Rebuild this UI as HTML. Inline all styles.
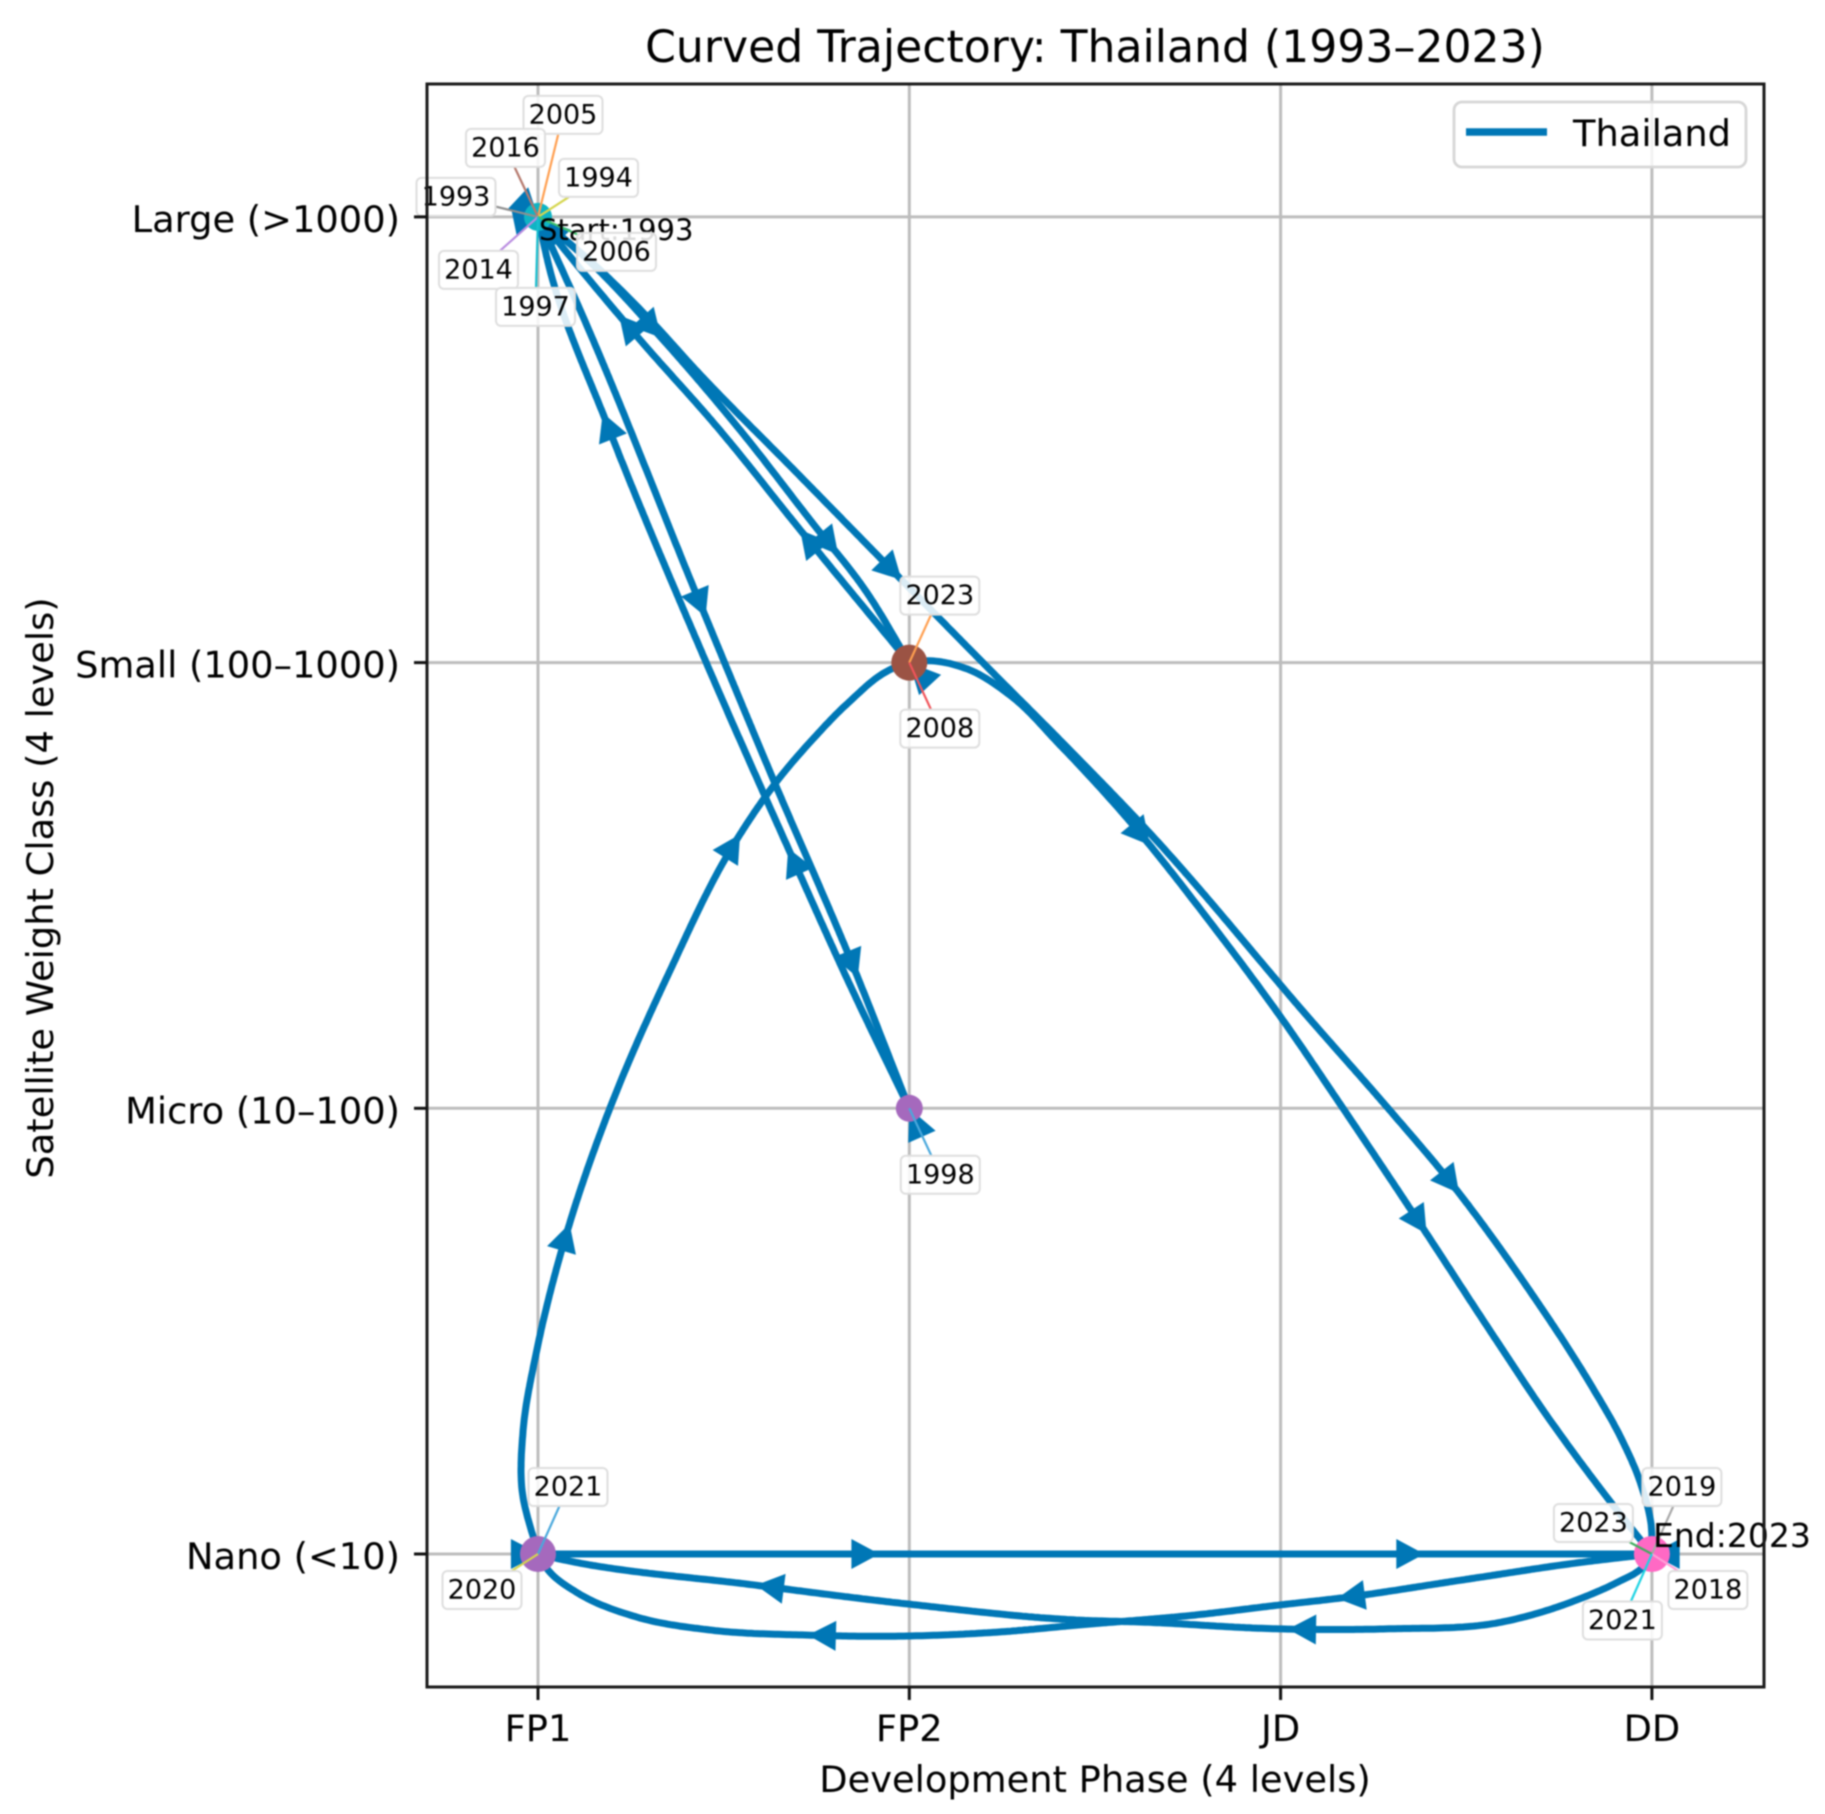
<!DOCTYPE html>
<html lang="en">
<head>
<meta charset="utf-8">
<title>Curved Trajectory: Thailand (1993–2023)</title>
<style>
  html, body { margin: 0; padding: 0; background: #fff; }
  body { width: 1825px; height: 1814px; overflow: hidden; }
  svg { display: block; filter: blur(0.85px); }
  text { font-family: "DejaVu Sans", "Liberation Sans", sans-serif; fill: #000; }
</style>
</head>
<body>
<svg id="chart" xmlns="http://www.w3.org/2000/svg" width="1825" height="1814" viewBox="0 0 1825 1814">
  <rect x="0" y="0" width="1825" height="1814" fill="#ffffff"/>
  <g id="grid"></g>
  <g id="legs"></g>
  <g id="arrows"></g>
  <g id="nodes"></g>
  <g id="leaders"></g>
  <text x="539" y="240" font-size="29">Start:1993</text>
  <text x="1653" y="1547" font-size="33">End:2023</text>
  <g id="labels"></g>
  <rect x="427" y="84" width="1337" height="1603" fill="none" stroke="#1a1a1a" stroke-width="3"/>
  <g id="ticks"></g>
  <text x="1095" y="62" font-size="44.1" text-anchor="middle">Curved Trajectory: Thailand (1993–2023)</text>
  <text x="1095" y="1792" font-size="36.8" text-anchor="middle">Development Phase (4 levels)</text>
  <text transform="translate(53 888) rotate(-90)" font-size="36.8" text-anchor="middle">Satellite Weight Class (4 levels)</text>
  <g>
    <rect x="1454" y="102" width="292" height="65" rx="8" fill="#ffffff" fill-opacity="0.82" stroke="#d6d6d6" stroke-width="2.8"/>
    <line x1="1466" y1="132" x2="1547" y2="132" stroke="#0077b6" stroke-width="7.5"/>
    <text x="1573" y="146" font-size="36.8">Thailand</text>
  </g>
</svg>
<script>
// ---- categories / tick labels ----
const phaseLabels = ['FP1', 'FP2', 'JD', 'DD'];
const weightLabels = ['Nano (<10)', 'Micro (10–100)', 'Small (100–1000)', 'Large (>1000)'];

// ---- trajectory legs (phase index, weight-class index) ----
const leg0Phase  = [0, .105, .436, .633, .840, 1];
const leg0Weight = [3, 2.807, 2.134, 1.739, 1.337, 1];
const leg1Phase  = [1, .840, .687, .450, .189, .032, 0];
const leg1Weight = [1, 1.277, 1.559, 2.006, 2.529, 2.881, 3];
const leg2Phase  = [1, .706, .482, .275, .132, 0];
const leg2Weight = [2, 2.298, 2.529, 2.724, 2.865, 3];
const leg3Phase  = [0, .140, .337, .544, .733, .881, 1];
const leg3Weight = [3, 2.899, 2.724, 2.522, 2.320, 2.163, 2];
const leg4Phase  = [0, .167, .302, .428, .698, .940, 1.204, 1.406, 1.637, 2.081, 2.303, 2.451, 2.664, 2.841, 2.914, 2.971, 2.998, 3];
const leg4Weight = [3, 2.881, 2.769, 2.654, 2.425, 2.219, 1.995, 1.826, 1.627, 1.198, .987, .841, .599, .372, .265, .155, .065, 0];
const leg5Phase  = [1, 1.056, 1.155, 1.271, 1.406, 1.602, 1.810, 2.006, 2.160, 2.367, 2.572, 2.720, 2.895, 3];
const leg5Weight = [2, 2.004, 1.986, 1.927, 1.815, 1.636, 1.418, 1.198, 1.010, .752, .491, .307, .110, 0];
const leg6Phase  = [0, 3];
const leg6Weight = [0, 0];
const leg7Phase  = [3, 2.976, 2.903, 2.798, 2.594, 2.284, 1.996, 1.635, 1.449, .994, .587, .046, 0];
const leg7Weight = [0, -.029, -.065, -.103, -.153, -.168, -.168, -.153, -.148, -.112, -.070, -.009, 0];
const leg8Phase  = [3, 2.798, 2.491, 2.160, 2.001, 1.769, 1.460, 1.242, .994, .727, .469, .264, .108, .027, 0];
const leg8Weight = [0, -.020, -.058, -.099, -.114, -.137, -.159, -.175, -.184, -.182, -.171, -.141, -.088, -.036, 0];
const leg9Phase  = [0, -.043, -.040, -.003, .078, .194, .350, .536, .652, .741, .832, .953, 1];
const leg9Weight = [0, .144, .278, .458, .722, 1.001, 1.299, 1.604, 1.743, 1.829, 1.907, 1.986, 2];

const legPhases  = [leg0Phase, leg1Phase, leg2Phase, leg3Phase, leg4Phase, leg5Phase, leg6Phase, leg7Phase, leg8Phase, leg9Phase];
const legWeights = [leg0Weight, leg1Weight, leg2Weight, leg3Weight, leg4Weight, leg5Weight, leg6Weight, leg7Weight, leg8Weight, leg9Weight];

// ---- direction arrows along the legs ----
const arrowLeg    = [0, 0, 1, 1, 2, 2, 3, 3, 4, 4, 5, 5, 6, 6, 7, 7, 8, 8, 9, 9];
const arrowPhase  = [.455, .859, .172, .673, .213, .700, .329, .790, .983, 2.486, 1.664, 2.392, .918, 2.386, 2.017, .587, 2.152, .727, .092, .549];
const arrowWeight = [2.102, 1.292, 2.560, 1.586, 2.775, 2.293, 2.724, 2.230, 2.185, .812, 1.602, .720, 0, 0, -.166, -.070, -.099, -.182, .738, 1.615];

// ---- short arrow stubs that end on a node ----
const stubFromPhase  = [-.073, 3.075, 1.056, 1.034, -.054, -.065, .059];
const stubFromWeight = [0, 0, 1.950, .936, 3.042, 2.989, 2.948];
const stubToPhase    = [.005, 3, 1, 1, 0, 0, 0];
const stubToWeight   = [0, 0, 2, 1, 3, 3, 3];

// ---- nodes ----
const nodePhase  = [0, 1, 1, 0, 3];
const nodeWeight = [3, 2, 1, 0, 0];

// ---- year annotations, each attached to a node ----
const labelYears = ['2005', '2016', '1994', '1993', '2006', '2014', '1997', '2023', '2008', '1998', '2021', '2020', '2019', '2023', '2018', '2021'];
const labelNode  = [0, 0, 0, 0, 0, 0, 0, 1, 1, 2, 3, 3, 4, 4, 4, 4];

// ---- presentation only ----
const nodeStyle = [
  { r: 14, fill: '#0fb4c4' }, { r: 18, fill: '#9b5344' }, { r: 13.5, fill: '#a569bd' },
  { r: 18, fill: '#a569bd' }, { r: 18, fill: '#ff69c4' }
];
const labelOffsets = [
  [25, -102], [-32.5, -69], [60.5, -39], [-82, -20], [78.5, 35], [-59.5, 53], [-2.5, 90],
  [30.5, -67], [30.5, 66], [31, 66.5], [30, -67], [-56, 36], [30, -67], [-58.5, -31], [56, 36], [-29.5, 66.5]
];
const leaderColors = ['#ff9f50', '#b5796d', '#d5d64e', '#8f8f8f', '#3fc06a', '#b98ce0', '#17becf',
  '#ff9f50', '#f0545a', '#4aa8dc', '#4aa8dc', '#d5d64e', '#a8a8a8', '#3fae5f', '#ff9fd8', '#1fd3e3'];
const LINE_COLOR = '#0077b6';
const LINE_WIDTH = 7;
const ARROW_LEN = 28;
const ARROW_HALF = 15;

// ---- axis functions ----
function xScale(p) { return 538 + 371.3 * p; }
function yScale(w) { return 1554 - 445.7 * w; }

const SVG_NS = 'http://www.w3.org/2000/svg';
function make(tag, attrs, parent) {
  const el = document.createElementNS(SVG_NS, tag);
  for (const k in attrs) el.setAttribute(k, attrs[k]);
  document.getElementById(parent).appendChild(el);
  return el;
}

// grid + ticks
phaseLabels.forEach(function (label, i) {
  const x = xScale(i);
  const g = make('line', { x1: x, y1: 84, x2: x, y2: 1687, stroke: '#bdbdbd', 'stroke-width': 3 }, 'grid');
  
  
  const t = make('line', { x1: x, y1: 1687, x2: x, y2: 1700, stroke: '#111', 'stroke-width': 3 }, 'ticks');
  
  
  const l = make('text', { x: x, y: 1741, 'font-size': 36.8, 'text-anchor': 'middle' }, 'ticks');
  l.textContent = label;
  
  
});
weightLabels.forEach(function (label, i) {
  const y = yScale(i);
  const g = make('line', { x1: 427, y1: y, x2: 1764, y2: y, stroke: '#bdbdbd', 'stroke-width': 3 }, 'grid');
  
  
  const t = make('line', { x1: 414, y1: y, x2: 427, y2: y, stroke: '#111', 'stroke-width': 3 }, 'ticks');
  
  
  const l = make('text', { x: 400, y: y + 15, 'font-size': 36.8, 'text-anchor': 'end' }, 'ticks');
  l.textContent = label;
  
  
});

// smooth a leg through its waypoints (chord-length Hermite spline), in pixel space
function sampleLeg(phases, weights) {
  const pts = phases.map(function (p, i) { return [xScale(p), yScale(weights[i])]; });
  const last = pts.length - 1;
  const chord = [];
  for (let i = 0; i < last; i++) chord.push(Math.hypot(pts[i + 1][0] - pts[i][0], pts[i + 1][1] - pts[i][1]) || 1);
  const tangent = pts.map(function (q, i) {
    if (i === 0) return [(pts[1][0] - q[0]) / chord[0], (pts[1][1] - q[1]) / chord[0]];
    if (i === last) return [(q[0] - pts[i - 1][0]) / chord[i - 1], (q[1] - pts[i - 1][1]) / chord[i - 1]];
    const d0 = chord[i - 1], d1 = chord[i];
    return [0, 1].map(function (k) {
      return (((q[k] - pts[i - 1][k]) / d0) * d1 + ((pts[i + 1][k] - q[k]) / d1) * d0) / (d0 + d1);
    });
  });
  const out = [];
  for (let i = 0; i < last; i++) {
    const d = chord[i], steps = Math.max(2, Math.ceil(d / 3));
    for (let s = 0; s < steps; s++) {
      const t = s / steps, t2 = t * t, t3 = t2 * t;
      const h00 = 2 * t3 - 3 * t2 + 1, h10 = t3 - 2 * t2 + t, h01 = -2 * t3 + 3 * t2, h11 = t3 - t2;
      out.push([
        h00 * pts[i][0] + h10 * d * tangent[i][0] + h01 * pts[i + 1][0] + h11 * d * tangent[i + 1][0],
        h00 * pts[i][1] + h10 * d * tangent[i][1] + h01 * pts[i + 1][1] + h11 * d * tangent[i + 1][1]
      ]);
    }
  }
  out.push(pts[last]);
  return out;
}

const legSamples = legPhases.map(function (ph, i) { return sampleLeg(ph, legWeights[i]); });
legSamples.forEach(function (samples) {
  const d = samples.map(function (q, i) { return (i ? 'L' : 'M') + q[0].toFixed(1) + ' ' + q[1].toFixed(1); }).join(' ');
  const path = make('path', { d: d, fill: 'none', stroke: LINE_COLOR, 'stroke-width': LINE_WIDTH, 'stroke-linejoin': 'round' }, 'legs');
  
  
});

// arrowheads
function arrowHead(tipX, tipY, ux, uy, len, half, name) {
  const bx = tipX - ux * len, by = tipY - uy * len;
  const pts = [[tipX, tipY], [bx - uy * half, by + ux * half], [bx + uy * half, by - ux * half]];
  const el = make('polygon', { points: pts.map(function (q) { return q[0].toFixed(1) + ',' + q[1].toFixed(1); }).join(' '), fill: LINE_COLOR }, 'arrows');
  
  
}
arrowLeg.forEach(function (legIndex, i) {
  const samples = legSamples[legIndex];
  const tx = xScale(arrowPhase[i]), ty = yScale(arrowWeight[i]);
  let best = 1, bestD = Infinity;
  for (let k = 1; k < samples.length; k++) {
    const dx = samples[k][0] - tx, dy = samples[k][1] - ty, dd = dx * dx + dy * dy;
    if (dd < bestD) { bestD = dd; best = k; }
  }
  const a = samples[Math.max(best - 5, 0)], b = samples[best];
  const vx = b[0] - a[0], vy = b[1] - a[1], n = Math.hypot(vx, vy) || 1;
  arrowHead(b[0], b[1], vx / n, vy / n, ARROW_LEN, ARROW_HALF, 'direction-arrow');
});
stubFromPhase.forEach(function (fp, i) {
  const fx = xScale(fp), fy = yScale(stubFromWeight[i]);
  const tx = xScale(stubToPhase[i]), ty = yScale(stubToWeight[i]);
  const vx = tx - fx, vy = ty - fy, n = Math.hypot(vx, vy) || 1;
  arrowHead(tx, ty, vx / n, vy / n, n, ARROW_HALF, 'node-arrow-stub');
});

// nodes
nodePhase.forEach(function (p, i) {
  const c = make('circle', { cx: xScale(p), cy: yScale(nodeWeight[i]), r: nodeStyle[i].r, fill: nodeStyle[i].fill }, 'nodes');
  
  
});

// annotations
const BOX_W = 79, BOX_H = 38;
labelYears.forEach(function (year, i) {
  const n = labelNode[i];
  const nx = xScale(nodePhase[n]), ny = yScale(nodeWeight[n]);
  const cx = nx + labelOffsets[i][0], cy = ny + labelOffsets[i][1];
  const dx = nx - cx, dy = ny - cy;
  const s = Math.min(BOX_W / 2 / (Math.abs(dx) || 1e-6), BOX_H / 2 / (Math.abs(dy) || 1e-6), 1);
  const leader = make('line', { x1: nx, y1: ny, x2: cx + dx * s, y2: cy + dy * s, stroke: leaderColors[i], 'stroke-width': 2.2 }, 'leaders');
  
  
  const box = make('rect', { x: cx - BOX_W / 2, y: cy - BOX_H / 2, width: BOX_W, height: BOX_H, rx: 5, fill: '#ffffff', 'fill-opacity': 0.86, stroke: '#dedede', 'stroke-width': 2 }, 'labels');
  
  
  const t = make('text', { x: cx, y: cy + 8.5, 'font-size': 27, 'text-anchor': 'middle' }, 'labels');
  t.textContent = year;
  
  
});
</script>
</body>
</html>
